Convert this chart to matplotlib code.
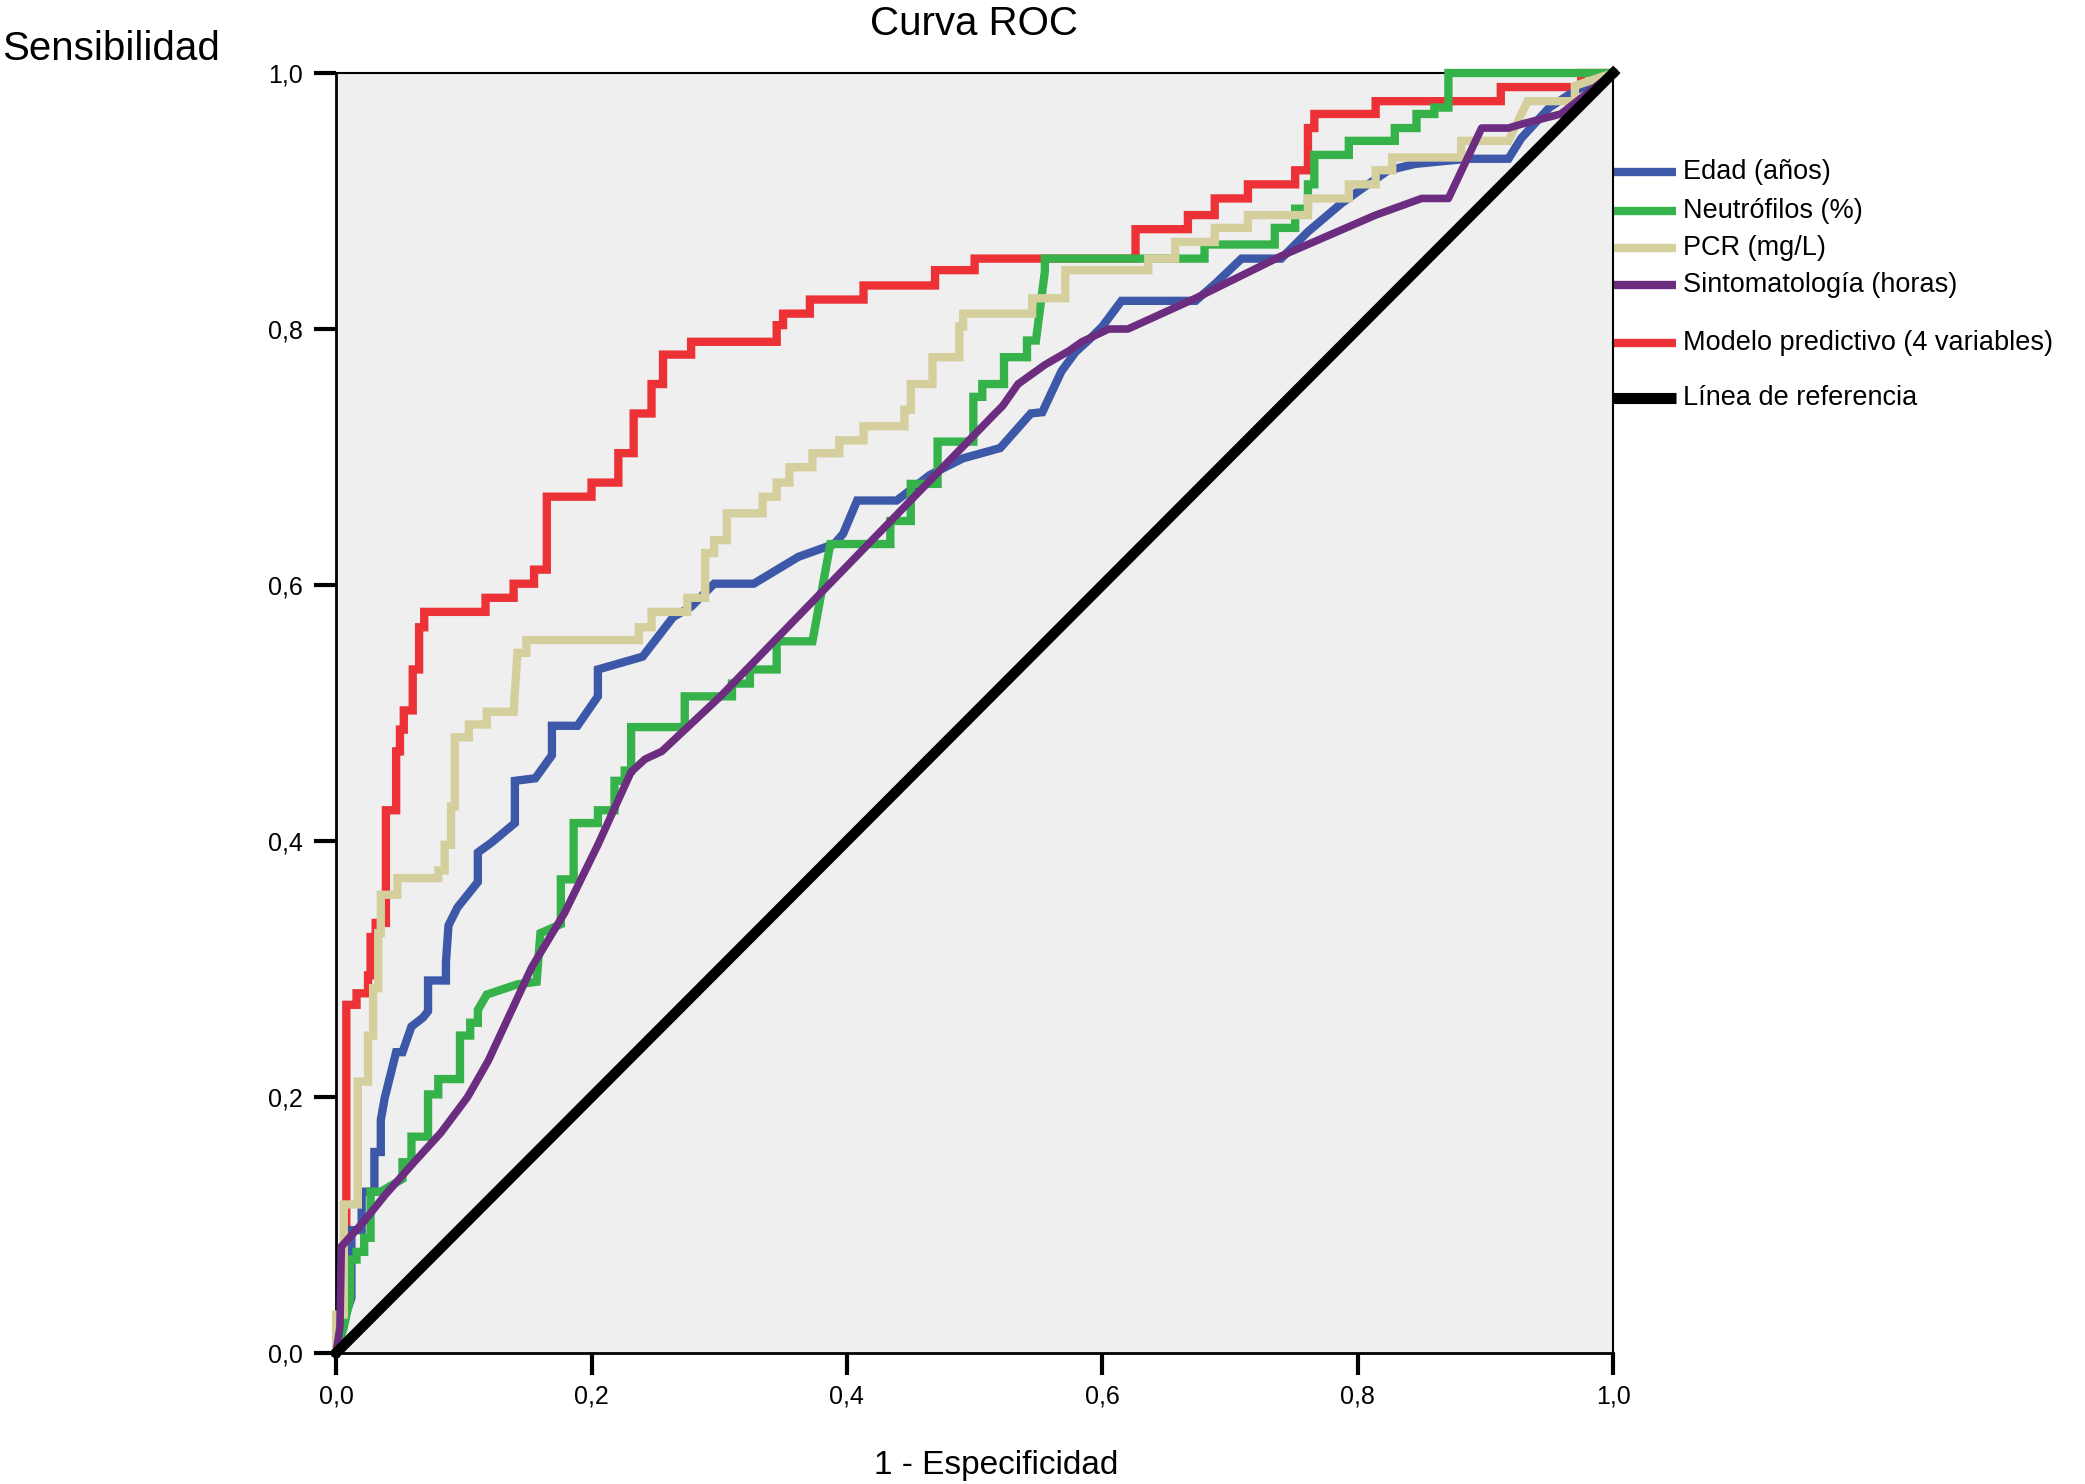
import matplotlib
matplotlib.use("Agg")
import matplotlib.pyplot as plt

plt.rcParams['font.family'] = ['Liberation Sans', 'DejaVu Sans']

# ROC curves (1 - especificidad, sensibilidad)
edad_x = [0, 0.004, 0.012, 0.012, 0.020, 0.020, 0.030, 0.030, 0.035, 0.035, 0.038, 0.042, 0.047, 0.052,
          0.059, 0.068, 0.072, 0.072, 0.086, 0.086, 0.088, 0.095, 0.111, 0.111, 0.122, 0.140, 0.140, 0.156,
          0.169, 0.169, 0.189, 0.205, 0.205, 0.240, 0.264, 0.278, 0.296, 0.327, 0.362, 0.390, 0.397, 0.408,
          0.439, 0.465, 0.491, 0.520, 0.544, 0.553, 0.568, 0.579, 0.590, 0.600, 0.615, 0.673, 0.688, 0.709,
          0.740, 0.761, 0.787, 0.808, 0.824, 0.845, 0.886, 0.918, 0.928, 0.950, 0.970, 1.0]
edad_y = [0, 0.020, 0.043, 0.096, 0.096, 0.126, 0.126, 0.157, 0.157, 0.182, 0.199, 0.215, 0.235, 0.235,
          0.255, 0.262, 0.267, 0.291, 0.291, 0.305, 0.334, 0.348, 0.368, 0.391, 0.399, 0.414, 0.447, 0.449,
          0.467, 0.490, 0.490, 0.513, 0.534, 0.544, 0.575, 0.583, 0.601, 0.601, 0.622, 0.632, 0.640, 0.666,
          0.666, 0.686, 0.699, 0.707, 0.734, 0.735, 0.767, 0.782, 0.792, 0.802, 0.822, 0.822, 0.835, 0.855,
          0.855, 0.876, 0.898, 0.913, 0.924, 0.929, 0.933, 0.933, 0.949, 0.973, 0.986, 1.0]

neutro_x = [0, 0.006, 0.011, 0.011, 0.016, 0.016, 0.022, 0.022, 0.027, 0.027, 0.035, 0.052, 0.052, 0.059,
            0.059, 0.072, 0.072, 0.080, 0.080, 0.097, 0.097, 0.105, 0.105, 0.111, 0.111, 0.118, 0.142, 0.157,
            0.160, 0.176, 0.176, 0.186, 0.186, 0.205, 0.205, 0.218, 0.218, 0.226, 0.226, 0.231, 0.231, 0.273,
            0.273, 0.310, 0.310, 0.324, 0.324, 0.345, 0.345, 0.373, 0.387, 0.434, 0.434, 0.450, 0.450, 0.471,
            0.471, 0.499, 0.499, 0.506, 0.506, 0.523, 0.523, 0.541, 0.541, 0.548, 0.555, 0.555, 0.680, 0.680,
            0.735, 0.735, 0.751, 0.751, 0.761, 0.761, 0.766, 0.766, 0.793, 0.793, 0.829, 0.829, 0.846, 0.846,
            0.860, 0.860, 0.871, 0.871, 1.0]
neutro_y = [0, 0.020, 0.043, 0.073, 0.073, 0.079, 0.079, 0.090, 0.090, 0.126, 0.126, 0.136, 0.149, 0.149,
            0.169, 0.169, 0.202, 0.202, 0.214, 0.214, 0.248, 0.248, 0.258, 0.258, 0.268, 0.280, 0.288, 0.290,
            0.328, 0.335, 0.370, 0.370, 0.414, 0.414, 0.424, 0.424, 0.447, 0.447, 0.455, 0.455, 0.489, 0.489,
            0.513, 0.513, 0.523, 0.523, 0.534, 0.534, 0.556, 0.556, 0.632, 0.632, 0.650, 0.650, 0.679, 0.679,
            0.712, 0.712, 0.747, 0.747, 0.757, 0.757, 0.778, 0.778, 0.791, 0.791, 0.845, 0.855, 0.855, 0.866,
            0.866, 0.879, 0.879, 0.894, 0.894, 0.913, 0.913, 0.936, 0.936, 0.947, 0.947, 0.957, 0.957, 0.968,
            0.968, 0.973, 0.973, 1.0, 1.0]

pcr_x = [0, 0, 0.006, 0.006, 0.017, 0.017, 0.025, 0.025, 0.029, 0.029, 0.033, 0.033, 0.035, 0.035,
         0.048, 0.048, 0.080, 0.080, 0.085, 0.085, 0.090, 0.090, 0.093, 0.093, 0.104, 0.104, 0.118, 0.118,
         0.139, 0.142, 0.149, 0.149, 0.237, 0.237, 0.247, 0.247, 0.275, 0.275, 0.289, 0.289, 0.296, 0.296,
         0.306, 0.306, 0.334, 0.334, 0.345, 0.345, 0.355, 0.355, 0.373, 0.373, 0.394, 0.394, 0.413, 0.413,
         0.445, 0.445, 0.450, 0.450, 0.467, 0.467, 0.488, 0.488, 0.491, 0.491, 0.545, 0.545, 0.571, 0.571,
         0.636, 0.636, 0.657, 0.657, 0.688, 0.688, 0.714, 0.714, 0.761, 0.761, 0.793, 0.793, 0.814, 0.814,
         0.827, 0.827, 0.881, 0.881, 0.918, 0.933, 0.970, 0.970, 1.0]
pcr_y = [0, 0.030, 0.030, 0.116, 0.116, 0.212, 0.212, 0.248, 0.248, 0.285, 0.285, 0.328, 0.328, 0.358,
         0.358, 0.371, 0.371, 0.377, 0.377, 0.397, 0.397, 0.427, 0.427, 0.481, 0.481, 0.491, 0.491, 0.501,
         0.501, 0.547, 0.547, 0.557, 0.557, 0.567, 0.567, 0.579, 0.579, 0.590, 0.590, 0.625, 0.625, 0.635,
         0.635, 0.656, 0.656, 0.669, 0.669, 0.680, 0.680, 0.692, 0.692, 0.703, 0.703, 0.713, 0.713, 0.724,
         0.724, 0.737, 0.737, 0.757, 0.757, 0.778, 0.778, 0.802, 0.802, 0.812, 0.812, 0.824, 0.824, 0.846,
         0.846, 0.855, 0.855, 0.868, 0.868, 0.879, 0.879, 0.889, 0.889, 0.902, 0.902, 0.913, 0.913, 0.924,
         0.924, 0.934, 0.934, 0.947, 0.947, 0.978, 0.978, 0.990, 1.0]

sinto_x = [0, 0.003, 0.004, 0.004, 0.022, 0.038, 0.061, 0.082, 0.103, 0.119, 0.153, 0.179, 0.205, 0.231,
           0.242, 0.255, 0.301, 0.516, 0.522, 0.534, 0.555, 0.574, 0.584, 0.605, 0.620, 0.673, 0.740, 0.814,
           0.850, 0.871, 0.897, 0.918, 0.928, 0.959, 1.0]
sinto_y = [0, 0.020, 0.079, 0.083, 0.103, 0.123, 0.149, 0.172, 0.200, 0.228, 0.301, 0.344, 0.397, 0.454,
           0.464, 0.470, 0.513, 0.734, 0.740, 0.757, 0.772, 0.783, 0.790, 0.800, 0.800, 0.824, 0.857, 0.889,
           0.902, 0.902, 0.957, 0.957, 0.960, 0.968, 1.0]

modelo_x = [0, 0.008, 0.008, 0.016, 0.016, 0.025, 0.025, 0.027, 0.027, 0.031, 0.031, 0.039, 0.039, 0.047,
            0.047, 0.050, 0.050, 0.053, 0.053, 0.060, 0.060, 0.065, 0.065, 0.069, 0.069, 0.117, 0.117, 0.139,
            0.139, 0.155, 0.155, 0.165, 0.165, 0.200, 0.200, 0.221, 0.221, 0.233, 0.233, 0.247, 0.247, 0.256,
            0.256, 0.278, 0.278, 0.345, 0.345, 0.350, 0.350, 0.371, 0.371, 0.413, 0.413, 0.469, 0.469, 0.500,
            0.500, 0.626, 0.626, 0.667, 0.667, 0.688, 0.688, 0.714, 0.714, 0.751, 0.751, 0.761, 0.761, 0.766,
            0.766, 0.814, 0.814, 0.912, 0.912, 0.975, 0.975, 1.0]
modelo_y = [0, 0.060, 0.272, 0.272, 0.281, 0.281, 0.295, 0.295, 0.325, 0.325, 0.336, 0.336, 0.424, 0.424,
            0.470, 0.470, 0.487, 0.487, 0.502, 0.502, 0.534, 0.534, 0.567, 0.567, 0.579, 0.579, 0.590, 0.590,
            0.601, 0.601, 0.612, 0.612, 0.669, 0.669, 0.680, 0.680, 0.703, 0.703, 0.734, 0.734, 0.757, 0.757,
            0.780, 0.780, 0.790, 0.790, 0.803, 0.803, 0.812, 0.812, 0.823, 0.823, 0.834, 0.834, 0.846, 0.846,
            0.855, 0.855, 0.878, 0.878, 0.889, 0.889, 0.902, 0.902, 0.913, 0.913, 0.924, 0.924, 0.957, 0.957,
            0.968, 0.968, 0.978, 0.978, 0.989, 0.989, 1.0, 1.0]

ref_x = [0, 1]
ref_y = [0, 1]

labels = ["Edad (años)", "Neutrófilos (%)", "PCR (mg/L)", "Sintomatología (horas)",
          "Modelo predictivo (4 variables)", "Línea de referencia"]
colors = ["#3d58a8", "#35b34a", "#d5cf9e", "#6c2d80", "#ec3237", "#000000"]
ticks = [0.0, 0.2, 0.4, 0.6, 0.8, 1.0]

fig = plt.figure(figsize=(20.85, 14.84), dpi=100)
ax = fig.add_axes([0.1612, 0.0883, 0.6125, 0.8625])
ax.set_facecolor("#efefef")

lw = 6
ax.plot(modelo_x, modelo_y, color=colors[4], lw=lw, clip_on=False, zorder=3, solid_joinstyle='miter')
ax.plot(edad_x, edad_y, color=colors[0], lw=lw, clip_on=False, zorder=4, solid_joinstyle='miter')
ax.plot(neutro_x, neutro_y, color=colors[1], lw=lw, clip_on=False, zorder=5, solid_joinstyle='miter')
ax.plot(pcr_x, pcr_y, color=colors[2], lw=lw, clip_on=False, zorder=6, solid_joinstyle='miter')
ax.plot(sinto_x, sinto_y, color=colors[3], lw=5.5, clip_on=False, zorder=7)
ax.plot(ref_x, ref_y, color=colors[5], lw=7.5, clip_on=False, zorder=8)

ax.set_xlim(0, 1)
ax.set_ylim(0, 1)
ax.set_xticks(ticks)
ax.set_yticks(ticks)
ax.set_xticklabels([f"{t:.1f}".replace('.', ',') for t in ticks])
ax.set_yticklabels([f"{t:.1f}".replace('.', ',') for t in ticks])
ax.tick_params(axis='both', direction='out', length=16, width=3, labelsize=18, color='black')
ax.tick_params(axis='y', pad=8)
ax.tick_params(axis='x', pad=6.5)
for side in ['left', 'bottom']:
    ax.spines[side].set_linewidth(2)
for side in ['top', 'right']:
    ax.spines[side].set_linewidth(1.5)

# legend entries outside the right edge
leg_y = [0.923, 0.892, 0.863, 0.834, 0.789, 0.746]
for i, lab in enumerate(labels):
    ax.plot([1.0, 1.049], [leg_y[i], leg_y[i]], transform=ax.transAxes, color=colors[i],
            lw=8 if i == 5 else 6, clip_on=False, solid_capstyle='butt')
    ax.text(1.055, leg_y[i], lab, transform=ax.transAxes, fontsize=19.5, va='center', ha='left')

fig.text(0.467, 0.9764, "Curva ROC", fontsize=29, ha='center', va='baseline')
fig.text(0.001, 0.9596, "Sensibilidad", fontsize=29, ha='left', va='baseline')
fig.text(0.4777, 0.0067, "1 - Especificidad", fontsize=24, ha='center', va='baseline')

fig.savefig("out.png", dpi=100, facecolor='white')
